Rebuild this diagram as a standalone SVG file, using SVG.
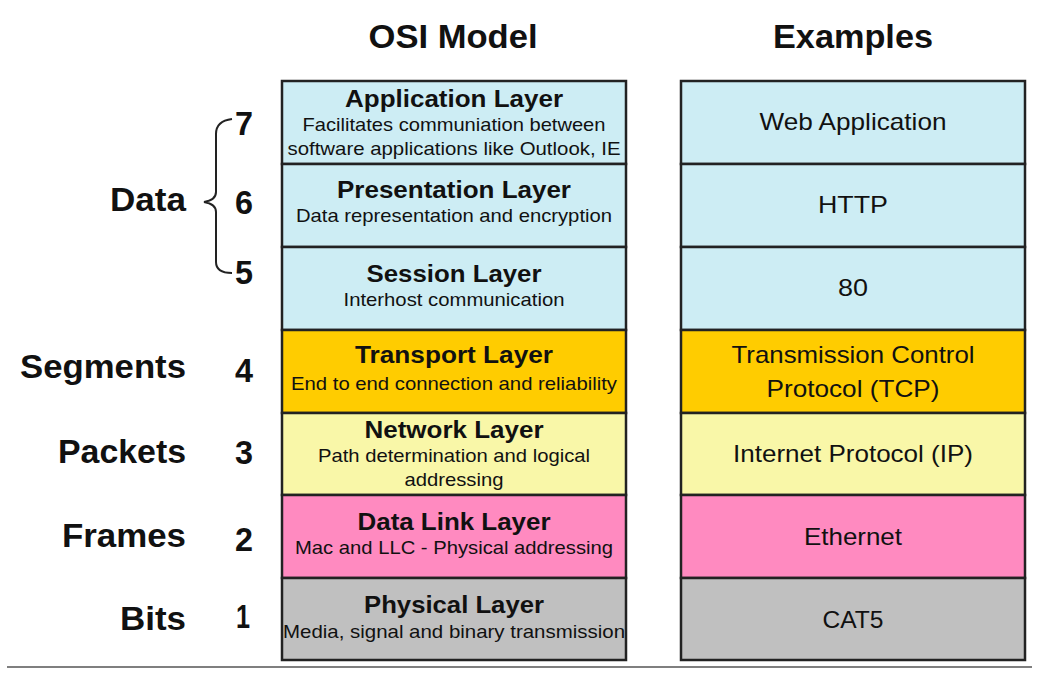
<svg xmlns="http://www.w3.org/2000/svg" width="1054" height="690" viewBox="0 0 1054 690">
<style>
text{font-family:"Liberation Sans",Arial,sans-serif;fill:#111;text-anchor:middle}
.h{font-size:34px;font-weight:bold}
.lbl{font-size:34px;font-weight:bold;text-anchor:end}
.num{font-size:34px;font-weight:bold}
.t{font-size:24px;font-weight:bold}
.d{font-size:18.5px}
.e{font-size:24px}
.cell{stroke:#222;stroke-width:2.5}
.blue{fill:#CDEDF4}.orange{fill:#FFCC00}.yellow{fill:#F9F7A8}.pink{fill:#FF8AC0}.gray{fill:#C0C0C0}
</style>
<rect width="1054" height="690" fill="#fff"/>
<g id="titles">
<text class="h" x="453" y="48" textLength="169" lengthAdjust="spacingAndGlyphs">OSI Model</text>
<text class="h" x="853" y="48" textLength="160" lengthAdjust="spacingAndGlyphs">Examples</text>
</g>
<g id="labels">
<text class="lbl" x="186" y="211" textLength="76" lengthAdjust="spacingAndGlyphs">Data</text>
<text class="lbl" x="186" y="378" textLength="166" lengthAdjust="spacingAndGlyphs">Segments</text>
<text class="lbl" x="186" y="463" textLength="128" lengthAdjust="spacingAndGlyphs">Packets</text>
<text class="lbl" x="186" y="547" textLength="124" lengthAdjust="spacingAndGlyphs">Frames</text>
<text class="lbl" x="186" y="630" textLength="66" lengthAdjust="spacingAndGlyphs">Bits</text>
<text class="num" x="244" y="135" textLength="18" lengthAdjust="spacingAndGlyphs">7</text>
<text class="num" x="244" y="214" textLength="18" lengthAdjust="spacingAndGlyphs">6</text>
<text class="num" x="244" y="284" textLength="18" lengthAdjust="spacingAndGlyphs">5</text>
<text class="num" x="244" y="382" textLength="18" lengthAdjust="spacingAndGlyphs">4</text>
<text class="num" x="244" y="464" textLength="18" lengthAdjust="spacingAndGlyphs">3</text>
<text class="num" x="244" y="551" textLength="18" lengthAdjust="spacingAndGlyphs">2</text>
<text class="num" x="243" y="628" textLength="14" lengthAdjust="spacingAndGlyphs">1</text>
</g>
<g id="connectors">
<path d="M232,119 Q216,121 216,134 L216,192 Q216,200 204,202 Q216,204 216,212 L216,262 Q216,273 232,273" fill="none" stroke="#222" stroke-width="2"/>
<line x1="7" y1="667" x2="1032" y2="667" stroke="#555" stroke-width="1.5"/>
</g>
<g id="layer7">
<rect class="cell blue" x="282" y="81" width="344" height="83"/>
<text class="t" x="454" y="107" textLength="218" lengthAdjust="spacingAndGlyphs">Application Layer</text>
<text class="d" x="454" y="131" textLength="303" lengthAdjust="spacingAndGlyphs">Facilitates communiation between</text>
<text class="d" x="454" y="155" textLength="333" lengthAdjust="spacingAndGlyphs">software applications like Outlook, IE</text>
</g>
<g id="layer6">
<rect class="cell blue" x="282" y="164" width="344" height="83"/>
<text class="t" x="454" y="198" textLength="234" lengthAdjust="spacingAndGlyphs">Presentation Layer</text>
<text class="d" x="454" y="222" textLength="316" lengthAdjust="spacingAndGlyphs">Data representation and encryption</text>
</g>
<g id="layer5">
<rect class="cell blue" x="282" y="247" width="344" height="83"/>
<text class="t" x="454" y="282" textLength="175" lengthAdjust="spacingAndGlyphs">Session Layer</text>
<text class="d" x="454" y="306" textLength="221" lengthAdjust="spacingAndGlyphs">Interhost communication</text>
</g>
<g id="layer4">
<rect class="cell orange" x="282" y="330" width="344" height="83"/>
<text class="t" x="454" y="363" textLength="198" lengthAdjust="spacingAndGlyphs">Transport Layer</text>
<text class="d" x="454" y="390" textLength="326" lengthAdjust="spacingAndGlyphs">End to end connection and reliability</text>
</g>
<g id="layer3">
<rect class="cell yellow" x="282" y="413" width="344" height="82"/>
<text class="t" x="454" y="438" textLength="179" lengthAdjust="spacingAndGlyphs">Network Layer</text>
<text class="d" x="454" y="462" textLength="272" lengthAdjust="spacingAndGlyphs">Path determination and logical</text>
<text class="d" x="454" y="486" textLength="99" lengthAdjust="spacingAndGlyphs">addressing</text>
</g>
<g id="layer2">
<rect class="cell pink" x="282" y="495" width="344" height="83"/>
<text class="t" x="454" y="530" textLength="193" lengthAdjust="spacingAndGlyphs">Data Link Layer</text>
<text class="d" x="454" y="554" textLength="318" lengthAdjust="spacingAndGlyphs">Mac and LLC - Physical addressing</text>
</g>
<g id="layer1">
<rect class="cell gray" x="282" y="578" width="344" height="82"/>
<text class="t" x="454" y="613" textLength="180" lengthAdjust="spacingAndGlyphs">Physical Layer</text>
<text class="d" x="454" y="638" textLength="342" lengthAdjust="spacingAndGlyphs">Media, signal and binary transmission</text>
</g>
<g id="ex7">
<rect class="cell blue" x="681" y="81" width="344" height="83"/>
<text class="e" x="853" y="130" textLength="187" lengthAdjust="spacingAndGlyphs">Web Application</text>
</g>
<g id="ex6">
<rect class="cell blue" x="681" y="164" width="344" height="83"/>
<text class="e" x="853" y="213" textLength="70" lengthAdjust="spacingAndGlyphs">HTTP</text>
</g>
<g id="ex5">
<rect class="cell blue" x="681" y="247" width="344" height="83"/>
<text class="e" x="853" y="296" textLength="30" lengthAdjust="spacingAndGlyphs">80</text>
</g>
<g id="ex4">
<rect class="cell orange" x="681" y="330" width="344" height="83"/>
<text class="e" x="853" y="363" textLength="243" lengthAdjust="spacingAndGlyphs">Transmission Control</text>
<text class="e" x="853" y="397" textLength="173" lengthAdjust="spacingAndGlyphs">Protocol (TCP)</text>
</g>
<g id="ex3">
<rect class="cell yellow" x="681" y="413" width="344" height="82"/>
<text class="e" x="853" y="462" textLength="240" lengthAdjust="spacingAndGlyphs">Internet Protocol (IP)</text>
</g>
<g id="ex2">
<rect class="cell pink" x="681" y="495" width="344" height="83"/>
<text class="e" x="853" y="545" textLength="98" lengthAdjust="spacingAndGlyphs">Ethernet</text>
</g>
<g id="ex1">
<rect class="cell gray" x="681" y="578" width="344" height="82"/>
<text class="e" x="853" y="628" textLength="61" lengthAdjust="spacingAndGlyphs">CAT5</text>
</g>
</svg>
